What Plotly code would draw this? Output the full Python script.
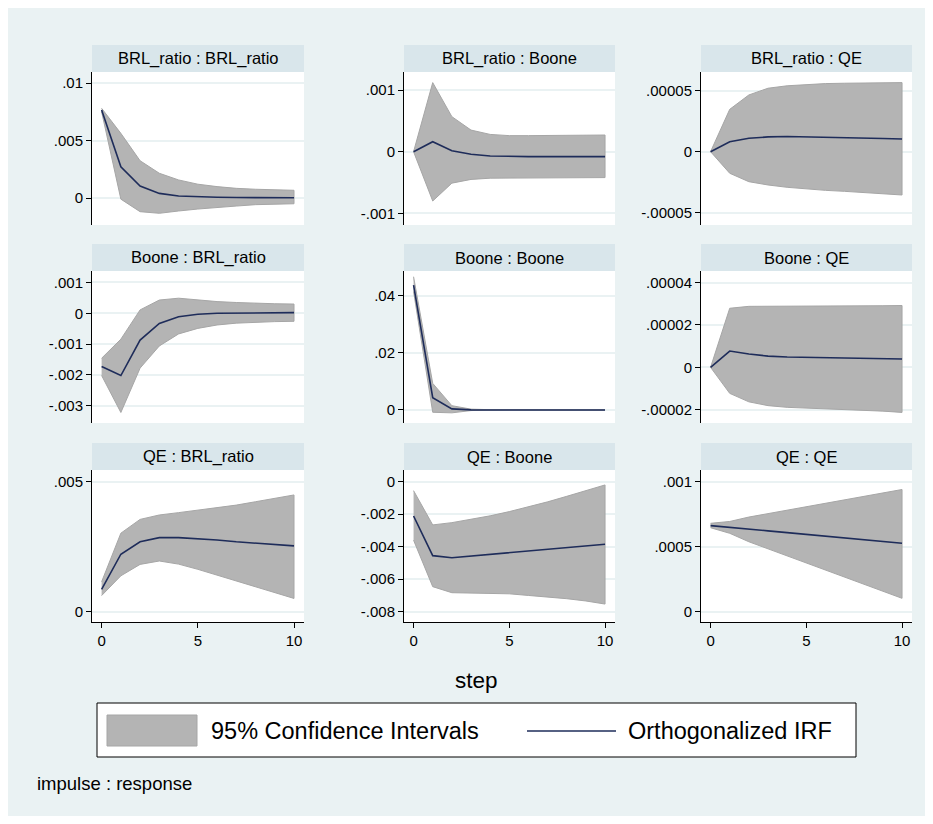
import plotly.graph_objects as go

steps = list(range(11))

# ---- data (impulse : response) ----
irf_brl_brl = [0.00765, 0.00272, 0.00104, 0.0004, 0.00017, 0.0001, 0.00006, 0.00004, 0.00003, 0.00002, 0.00002]
hi_brl_brl = [0.0078, 0.00562, 0.00324, 0.00215, 0.00157, 0.0012, 0.00099, 0.00084, 0.00076, 0.0007, 0.00067]
lo_brl_brl = [0.0075, -0.0001, -0.00119, -0.00133, -0.00113, -0.00096, -0.00081, -0.0007, -0.00058, -0.00052, -0.0005]

irf_brl_boone = [0.0, 0.000162, 0.000016, -0.000043, -0.00007, -0.000078, -0.00008, -0.00008, -0.00008, -0.00008, -0.00008]
hi_brl_boone = [0.0, 0.00112, 0.000568, 0.00035, 0.00028, 0.00026, 0.00026, 0.00026, 0.00026, 0.000265, 0.00027]
lo_brl_boone = [0.0, -0.0008, -0.00051, -0.00045, -0.00043, -0.00042, -0.00042, -0.00042, -0.00042, -0.00042, -0.00042]

irf_brl_qe = [0.0, 0.0000082, 0.000011, 0.0000121, 0.0000124, 0.0000122, 0.000012, 0.0000116, 0.0000112, 0.0000108, 0.0000104]
hi_brl_qe = [0.0, 0.0000347, 0.0000465, 0.000052, 0.000054, 0.0000552, 0.0000558, 0.0000561, 0.0000563, 0.0000565, 0.0000566]
lo_brl_qe = [0.0, -0.0000177, -0.0000246, -0.0000273, -0.0000292, -0.0000306, -0.0000317, -0.0000325, -0.0000336, -0.0000344, -0.0000355]

irf_boone_brl = [-0.00173, -0.00202, -0.00087, -0.00033, -0.00011, -0.00003, 0.0, 0.00001, 0.00001, 0.00002, 0.00002]
hi_boone_brl = [-0.00146, -0.00084, 0.00011, 0.00043, 0.00049, 0.00043, 0.00038, 0.00035, 0.00032, 0.00031, 0.0003]
lo_boone_brl = [-0.00202, -0.00322, -0.00178, -0.00106, -0.00067, -0.00049, -0.00038, -0.00032, -0.00029, -0.00027, -0.00026]

irf_boone_boone = [0.0437, 0.0043, 0.0004, 0.00005, 0.0, 0.0, 0.0, 0.0, 0.0, 0.0, 0.0]
hi_boone_boone = [0.0466, 0.0093, 0.0015, 0.0003, 0.0001, 0.00005, 0.0, 0.0, 0.0, 0.0, 0.0]
lo_boone_boone = [0.0414, -0.0008, -0.001, -0.0002, -0.00005, 0.0, 0.0, 0.0, 0.0, 0.0, 0.0]

irf_boone_qe = [0.0, 0.0000077, 0.0000063, 0.0000053, 0.0000049, 0.0000047, 0.0000045, 0.0000043, 0.0000042, 0.000004, 0.0000039]
hi_boone_qe = [0.0, 0.0000279, 0.0000288, 0.0000288, 0.0000288, 0.0000288, 0.0000289, 0.0000289, 0.000029, 0.0000291, 0.0000292]
lo_boone_qe = [0.0, -0.0000123, -0.0000163, -0.0000181, -0.0000189, -0.0000193, -0.0000196, -0.0000199, -0.0000203, -0.0000207, -0.0000213]

irf_qe_brl = [0.00086, 0.00221, 0.00269, 0.00285, 0.00285, 0.00281, 0.00276, 0.00269, 0.00263, 0.00258, 0.00253]
hi_qe_brl = [0.00115, 0.00302, 0.00355, 0.00372, 0.00381, 0.0039, 0.004, 0.0041, 0.00423, 0.00436, 0.00449]
lo_qe_brl = [0.00062, 0.00138, 0.00182, 0.00195, 0.00183, 0.00163, 0.00141, 0.00119, 0.00097, 0.00074, 0.00051]

irf_qe_boone = [-0.00211, -0.00455, -0.00468, -0.00458, -0.00448, -0.00438, -0.00428, -0.00418, -0.00408, -0.00396, -0.00385]
hi_qe_boone = [-0.00055, -0.00266, -0.00252, -0.00232, -0.0021, -0.00184, -0.00155, -0.00124, -0.0009, -0.00055, -0.0002]
lo_qe_boone = [-0.0036, -0.00646, -0.00683, -0.00687, -0.00688, -0.0069, -0.007, -0.00708, -0.0072, -0.00734, -0.00753]

irf_qe_qe = [0.000662, 0.00065, 0.000636, 0.000622, 0.000608, 0.000594, 0.00058, 0.000566, 0.000553, 0.00054, 0.000526]
hi_qe_qe = [0.00068, 0.000694, 0.000728, 0.000755, 0.000782, 0.000808, 0.000835, 0.000861, 0.000888, 0.000914, 0.00094]
lo_qe_qe = [0.000646, 0.000603, 0.000538, 0.000484, 0.000429, 0.000375, 0.00032, 0.000266, 0.000212, 0.000157, 0.000103]

titles = ["BRL_ratio : BRL_ratio", "BRL_ratio : Boone", "BRL_ratio : QE",
          "Boone : BRL_ratio", "Boone : Boone", "Boone : QE",
          "QE : BRL_ratio", "QE : Boone", "QE : QE"]
irfs = [irf_brl_brl, irf_brl_boone, irf_brl_qe, irf_boone_brl, irf_boone_boone, irf_boone_qe,
        irf_qe_brl, irf_qe_boone, irf_qe_qe]
his = [hi_brl_brl, hi_brl_boone, hi_brl_qe, hi_boone_brl, hi_boone_boone, hi_boone_qe,
       hi_qe_brl, hi_qe_boone, hi_qe_qe]
los = [lo_brl_brl, lo_brl_boone, lo_brl_qe, lo_boone_brl, lo_boone_boone, lo_boone_qe,
       lo_qe_brl, lo_qe_boone, lo_qe_qe]

ytickvals = [[0, 0.005, 0.01], [-0.001, 0, 0.001], [-0.00005, 0, 0.00005],
             [-0.003, -0.002, -0.001, 0, 0.001], [0, 0.02, 0.04], [-0.00002, 0, 0.00002, 0.00004],
             [0, 0.005], [-0.008, -0.006, -0.004, -0.002, 0], [0, 0.0005, 0.001]]
yticktext = [["0", ".005", ".01"], ["-.001", "0", ".001"], ["-.00005", "0", ".00005"],
             ["-.003", "-.002", "-.001", "0", ".001"], ["0", ".02", ".04"], ["-.00002", "0", ".00002", ".00004"],
             ["0", ".005"], ["-.008", "-.006", "-.004", "-.002", "0"], ["0", ".0005", ".001"]]
yranges = [[-0.002348, 0.010957], [-0.001189, 0.001292], [-0.0000601, 0.0000653],
           [-0.003562, 0.001373], [-0.00455, 0.0486], [-0.0000263, 0.0000455],
           [-0.000396, 0.00545], [-0.008634, 0.00072], [-0.0000792, 0.00109]]
xtickvals = [0, 5, 10]

# ---- layout geometry (pixels in the page; figure sits at an 8px body margin) ----
OFF = 8
W, H = 917, 808
col_px = [(92, 304), (404, 615), (701, 912)]
row_px = [(72, 225), (271, 423), (470, 622)]
band_px = [(45, 72), (244, 271), (443, 470)]

FONT = "Liberation Sans, Arial, Helvetica, sans-serif"
BG = "#EAF2F3"
BAND = "#D9E6EB"
FILL = "#B4B4B4"
LINE = "#1E2C5A"


def px_x(v):
    return (v - OFF) / W


def px_y(v):
    return 1 - (v - OFF) / H


fig = go.Figure()
layout = dict(width=W, height=H, margin=dict(l=0, r=0, t=0, b=0),
              paper_bgcolor=BG, plot_bgcolor="white", showlegend=False,
              font=dict(family=FONT, color="black"))
shapes = []
annotations = []

for i in range(9):
    r, c = divmod(i, 3)
    n = i + 1
    xa = "x" if n == 1 else f"x{n}"
    ya = "y" if n == 1 else f"y{n}"
    x0, x1 = col_px[c]
    y0, y1 = row_px[r]
    fig.add_trace(go.Scatter(x=steps + steps[::-1], y=his[i] + los[i][::-1], fill="toself",
                             fillcolor=FILL, mode="lines", line=dict(color="#A6A6A6", width=1),
                             xaxis=xa, yaxis=ya, hoverinfo="skip"))
    fig.add_trace(go.Scatter(x=steps, y=irfs[i], mode="lines", line=dict(color=LINE, width=1.6),
                             xaxis=xa, yaxis=ya))
    bottom = (r == 2)
    layout["xaxis" if n == 1 else f"xaxis{n}"] = dict(
        domain=[px_x(x0), px_x(x1)], range=[-0.5, 10.52], anchor=ya,
        showgrid=False, zeroline=False, tickvals=xtickvals,
        showticklabels=bottom, ticks="outside" if bottom else "", ticklen=5,
        tickcolor="black", showline=bottom, linecolor="black", linewidth=1,
        tickfont=dict(size=15, family=FONT, color="black"), fixedrange=True)
    layout["yaxis" if n == 1 else f"yaxis{n}"] = dict(
        domain=[px_y(y1), px_y(y0)], range=yranges[i], anchor=xa,
        tickvals=ytickvals[i], ticktext=yticktext[i], ticks="outside", ticklen=5,
        tickcolor="black", showline=True, linecolor="black", linewidth=1,
        showgrid=True, gridcolor=BG, gridwidth=1.5, zeroline=False,
        tickfont=dict(size=15, family=FONT, color="black"), fixedrange=True)
    by0, by1 = band_px[r]
    shapes.append(dict(type="rect", xref="paper", yref="paper", x0=px_x(x0), x1=px_x(x1),
                       y0=px_y(by1), y1=px_y(by0), fillcolor=BAND, line=dict(width=0)))
    annotations.append(dict(text=titles[i], xref="paper", yref="paper",
                            x=px_x((x0 + x1) / 2), y=px_y((by0 + by1) / 2),
                            xanchor="center", yanchor="middle", showarrow=False,
                            font=dict(size=16.5, family=FONT, color="black")))

# x-axis title
annotations.append(dict(text="step", xref="paper", yref="paper", x=px_x(476), y=px_y(680),
                        xanchor="center", yanchor="middle", showarrow=False,
                        font=dict(size=22.5, family=FONT, color="black")))
# legend box
shapes.append(dict(type="rect", xref="paper", yref="paper", x0=px_x(97), x1=px_x(856),
                   y0=px_y(757), y1=px_y(703), fillcolor="white", line=dict(color="black", width=1)))
shapes.append(dict(type="rect", xref="paper", yref="paper", x0=px_x(107), x1=px_x(197),
                   y0=px_y(746), y1=px_y(715), fillcolor=FILL, line=dict(color="#A6A6A6", width=1)))
shapes.append(dict(type="line", xref="paper", yref="paper", x0=px_x(527), x1=px_x(616),
                   y0=px_y(731), y1=px_y(731), line=dict(color=LINE, width=1.6)))
annotations.append(dict(text="95% Confidence Intervals", xref="paper", yref="paper",
                        x=px_x(209), y=px_y(731), xanchor="left", yanchor="middle", showarrow=False,
                        font=dict(size=23.5, family=FONT, color="black")))
annotations.append(dict(text="Orthogonalized IRF", xref="paper", yref="paper",
                        x=px_x(626), y=px_y(731), xanchor="left", yanchor="middle", showarrow=False,
                        font=dict(size=23.5, family=FONT, color="black")))
annotations.append(dict(text="impulse : response", xref="paper", yref="paper",
                        x=px_x(35), y=px_y(783), xanchor="left", yanchor="middle", showarrow=False,
                        font=dict(size=18.5, family=FONT, color="black")))

layout["shapes"] = shapes
layout["annotations"] = annotations
fig.update_layout(**layout)
fig.write_html("out.html")
